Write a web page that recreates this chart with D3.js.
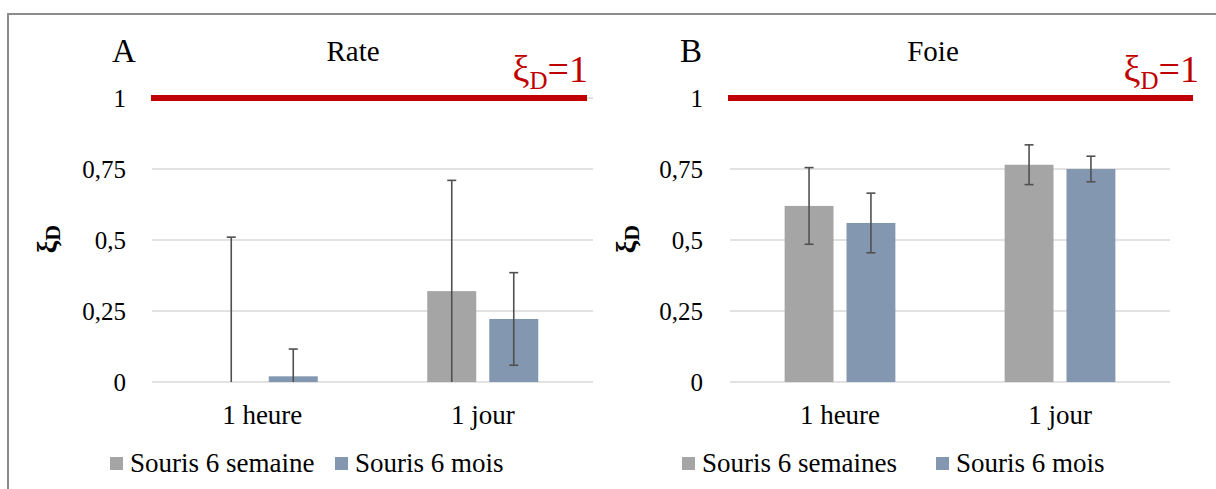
<!DOCTYPE html>
<html><head><meta charset="utf-8">
<script src="https://cdn.jsdelivr.net/npm/d3@7"></script>
<style>body{margin:0;background:#fff} svg{display:block}</style>
</head><body><svg id="c" width="1216" height="489"></svg>
<script>
// ---- data ----
const categories = ["1 heure", "1 jour"];
const seriesKeys = ["young", "old"];
const legendNamesA = ["Souris 6 semaine", "Souris 6 mois"];
const legendNamesB = ["Souris 6 semaines", "Souris 6 mois"];
const rateYoung = [0, 0.32];
const rateYoungErr = [0.51, 0.39];
const rateOld = [0.02, 0.222];
const rateOldErr = [0.096, 0.163];
const foieYoung = [0.62, 0.765];
const foieYoungErr = [0.135, 0.07];
const foieOld = [0.56, 0.75];
const foieOldErr = [0.105, 0.045];
const yTicks = [0, 0.25, 0.5, 0.75, 1];
const yTickLabels = ["0", "0,25", "0,5", "0,75", "1"];
const refValue = 1;

// ---- style ----
const colors = {young: "#a5a5a5", old: "#8497b0"};
const red = "#c00000";
const FONT = '"Liberation Serif", "Times New Roman", serif';

const svg = d3.select("#c");
svg.append("rect").attr("x", 8).attr("y", 14).attr("width", 1400).attr("height", 600)
  .attr("fill", "none").attr("stroke", "#8c8c8c").attr("stroke-width", 2);

const panels = [
  {letter: "A", title: "Rate", young: rateYoung, youngErr: rateYoungErr, old: rateOld, oldErr: rateOldErr,
   legend: legendNamesA, letterX: 124, titleX: 353, plot: [152, 593], refLine: [151, 587], tickRight: 126,
   yLabelX: 56, refLabelRight: 588, legendX: [110, 335]},
  {letter: "B", title: "Foie", young: foieYoung, youngErr: foieYoungErr, old: foieOld, oldErr: foieOldErr,
   legend: legendNamesB, letterX: 691, titleX: 933, plot: [730, 1170], refLine: [728, 1193], tickRight: 703,
   yLabelX: 635, refLabelRight: 1199, legendX: [682, 936]}
];

const y = d3.scaleLinear().domain([0, 1]).range([382, 98]).clamp(true);

panels.forEach(p => {
  const g = svg.append("g");
  const x = d3.scaleBand().domain(categories).range(p.plot).padding(0);
  const xs = d3.scaleBand().domain(seriesKeys).range([0, x.bandwidth()])
    .paddingInner(0.21).paddingOuter(0.883);

  g.selectAll(".grid").data(yTicks).join("line")
    .attr("x1", p.plot[0]).attr("x2", p.plot[1])
    .attr("y1", d => y(d)).attr("y2", d => y(d))
    .attr("stroke", "#d9d9d9").attr("stroke-width", 1.5);

  g.selectAll(".tl").data(yTicks).join("text")
    .attr("x", p.tickRight).attr("y", d => y(d) + 9)
    .attr("text-anchor", "end").attr("font-size", 25).style("font-family", FONT)
    .text((d, i) => yTickLabels[i]);

  const rows = [];
  categories.forEach((c, i) => {
    rows.push({cat: c, key: "young", v: p.young[i], e: p.youngErr[i]});
    rows.push({cat: c, key: "old", v: p.old[i], e: p.oldErr[i]});
  });
  g.selectAll(".bar").data(rows).join("rect")
    .attr("x", d => x(d.cat) + xs(d.key)).attr("width", xs.bandwidth())
    .attr("y", d => y(d.v)).attr("height", d => y(0) - y(d.v))
    .attr("fill", d => colors[d.key]);

  const eg = g.selectAll(".eb").data(rows).join("g");
  const cx = d => x(d.cat) + xs(d.key) + xs.bandwidth() / 2;
  eg.append("line").attr("x1", cx).attr("x2", cx)
    .attr("y1", d => y(d.v + d.e)).attr("y2", d => y(d.v - d.e))
    .attr("stroke", "#505050").attr("stroke-width", 1.6);
  eg.append("line").attr("x1", d => cx(d) - 4.5).attr("x2", d => cx(d) + 4.5)
    .attr("y1", d => y(d.v + d.e)).attr("y2", d => y(d.v + d.e))
    .attr("stroke", "#505050").attr("stroke-width", 1.6);
  eg.filter(d => d.v - d.e > 0).append("line").attr("x1", d => cx(d) - 4.5).attr("x2", d => cx(d) + 4.5)
    .attr("y1", d => y(d.v - d.e)).attr("y2", d => y(d.v - d.e))
    .attr("stroke", "#505050").attr("stroke-width", 1.6);

  g.append("line").attr("x1", p.refLine[0]).attr("x2", p.refLine[1])
    .attr("y1", y(refValue)).attr("y2", y(refValue))
    .attr("stroke", red).attr("stroke-width", 6);

  const rl = g.append("text").attr("x", p.refLabelRight).attr("y", 82)
    .attr("text-anchor", "end").attr("font-size", 38).attr("fill", red).style("font-family", FONT);
  rl.append("tspan").text("ξ");
  rl.append("tspan").attr("font-size", 25).attr("dy", 7).text("D");
  rl.append("tspan").attr("dy", -7).text("=" + refValue);

  g.append("text").attr("x", p.letterX).attr("y", 62).attr("text-anchor", "middle")
    .attr("font-size", 33).style("font-family", FONT).text(p.letter);
  g.append("text").attr("x", p.titleX).attr("y", 61).attr("text-anchor", "middle")
    .attr("font-size", 29).style("font-family", FONT).text(p.title);

  const yl = g.append("text").attr("transform", `translate(${p.yLabelX},239) rotate(-90)`)
    .attr("text-anchor", "middle").attr("font-size", 28).attr("font-weight", "bold").style("font-family", FONT);
  yl.append("tspan").text("ξ");
  yl.append("tspan").attr("font-size", 22).attr("dy", 4).text("D");

  g.selectAll(".cl").data(categories).join("text")
    .attr("x", d => x(d) + x.bandwidth() / 2).attr("y", 424)
    .attr("text-anchor", "middle").attr("font-size", 27).style("font-family", FONT).text(d => d);

  seriesKeys.forEach((k, i) => {
    g.append("rect").attr("x", p.legendX[i]).attr("y", 457).attr("width", 13).attr("height", 13)
      .attr("fill", colors[k]);
    g.append("text").attr("x", p.legendX[i] + 20).attr("y", 472).attr("font-size", 27)
      .style("font-family", FONT).text(p.legend[i]);
  });
});
</script></body></html>
